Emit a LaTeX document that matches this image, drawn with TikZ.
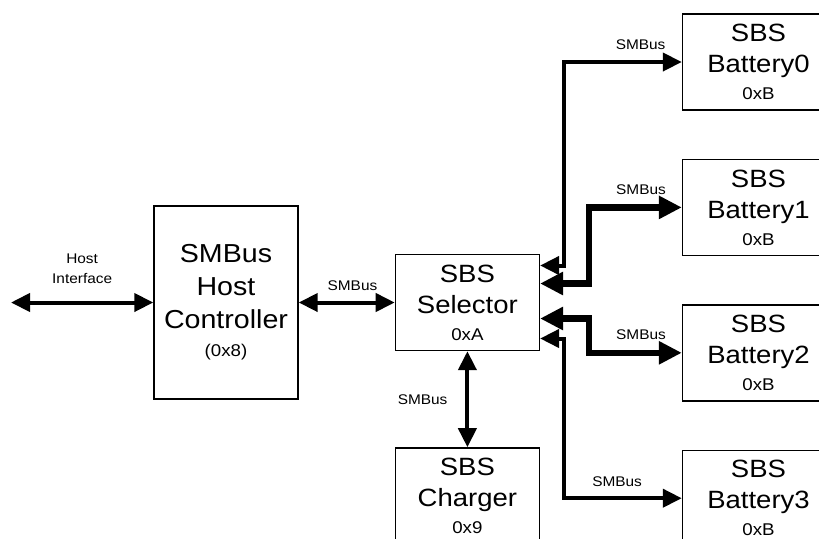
\documentclass[tikz,border=0pt]{standalone}
\usepackage{fontspec}
\setmainfont[FakeStretch=1.1]{Liberation Sans}
\usetikzlibrary{arrows.meta, positioning}
\newcommand\boxfont{\fontsize{12.5}{15.5}\selectfont}
\newcommand\hostfont{\fontsize{13}{16.5}\selectfont}
\newcommand\hexfont{\fontsize{8.5}{10}\selectfont}
\newcommand\busfont{\fontsize{7}{10}\selectfont}

\begin{document}
\begin{tikzpicture}[x=0.5pt, y=-0.5pt,
    box/.style={rectangle, draw, line width=0.7pt, minimum width=72pt, minimum height=48pt, inner sep=0pt, align=center, font=\boxfont},
    battbox/.style={box, minimum width=76pt},
    bus/.style={line width=2pt, {Triangle[length=9.5pt, width=9pt]}-{Triangle[length=9.5pt, width=9pt]}},
    widebus/.style={line width=3.25pt, {Triangle[length=11.5pt, width=11pt]}-{Triangle[length=11.5pt, width=11pt]}},
    lbl/.style={font=\busfont, inner sep=1pt, align=center}]
\useasboundingbox (0,0) rectangle (819,538);
\node[box, minimum height=96.5pt, font=\hostfont] (host) at (226,302.5) {SMBus\\Host\\Controller\\[-2.5pt]{\hexfont (0x8)}};
\node[box, right=48pt of host] (sel) {SBS\\Selector\\[-2pt]{\hexfont 0xA}};
\node[box, below=48pt of sel] (chg) {SBS\\Charger\\[-2pt]{\hexfont 0x9}};
\node[battbox] (bat0) at (758.5,62) {SBS\\Battery0\\[-2pt]{\hexfont 0xB}};
\node[battbox, below=24pt of bat0] (bat1) {SBS\\Battery1\\[-2pt]{\hexfont 0xB}};
\node[battbox, below=24pt of bat1] (bat2) {SBS\\Battery2\\[-2pt]{\hexfont 0xB}};
\node[battbox, below=24pt of bat2] (bat3) {SBS\\Battery3\\[-2pt]{\hexfont 0xB}};
\coordinate (ext) at (11,302.5);
\coordinate (sel0) at ([yshift=18.5pt]sel.east);
\coordinate (sel1) at ([yshift=9.5pt]sel.east);
\coordinate (sel2) at ([yshift=-8pt]sel.east);
\coordinate (sel3) at ([yshift=-18pt]sel.east);
\draw[bus] (ext) -- node[lbl, above=7.5pt] {Host\\Interface} (host.west);
\draw[bus] (host.east) -- node[lbl, above=4pt, pos=0.56] {SMBus} (sel.west);
\draw[bus] (sel.south) -- node[lbl, left=8pt] {SMBus} (chg.north);
\draw[bus] (sel0) -- ++(24,0) |- node[lbl, above=4pt, pos=0.825] {SMBus} (bat0.west);
\draw[widebus] (sel1) -- ++(49,0) |- node[lbl, above=4pt, pos=0.78] {SMBus} (bat1.west);
\draw[widebus] (sel2) -- ++(49,0) |- node[lbl, above=4pt, pos=0.78] {SMBus} (bat2.west);
\draw[bus] (sel3) -- ++(24,0) |- node[lbl, above=4pt, pos=0.725] {SMBus} (bat3.west);
\end{tikzpicture}
\end{document}
